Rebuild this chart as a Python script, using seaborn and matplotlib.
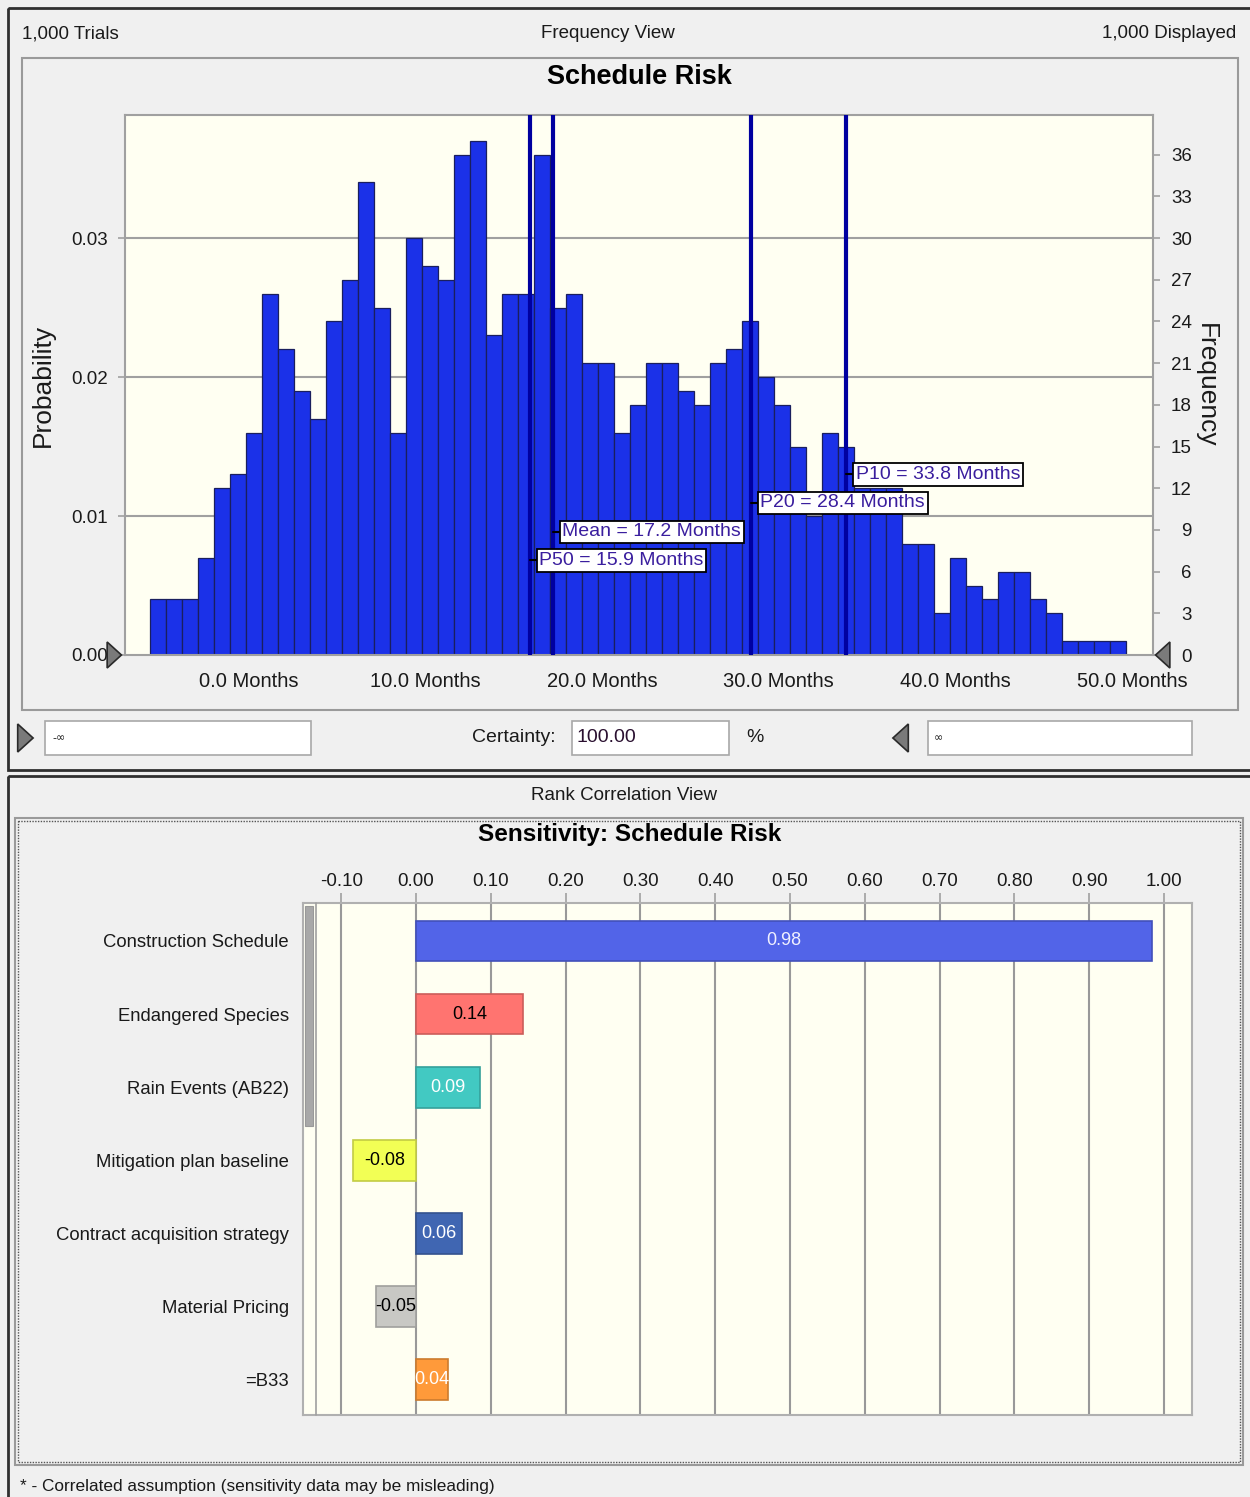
import numpy as np
import pandas as pd
import seaborn as sns
import matplotlib.pyplot as plt
from matplotlib import font_manager
from matplotlib.patches import Rectangle, Polygon
from matplotlib.lines import Line2D

# ---- data -------------------------------------------------------------
n_trials = 1000
first_edge = -5.55      # months, left edge of first bin
bin_width = 0.905       # months
counts = [4, 4, 4, 7, 12, 13, 16, 26, 22, 19, 17, 24, 27, 34, 25, 16, 30, 28, 27, 36,
          37, 23, 26, 26, 36, 25, 26, 21, 21, 16, 18, 21, 21, 19, 18, 21, 22, 24, 20, 18,
          15, 10, 16, 15, 12, 12, 12, 8, 8, 3, 7, 5, 4, 6, 6, 4, 3, 1, 1, 1, 1]
month_ticks = [0, 10, 20, 30, 40, 50]
freq_ticks = [0, 3, 6, 9, 12, 15, 18, 21, 24, 27, 30, 33, 36]
prob_ticks = [0.00, 0.01, 0.02, 0.03]

stat_names = ["P50", "Mean", "P20", "P10"]
stat_values = [15.9, 17.2, 28.4, 33.8]

sens_names = ["Construction Schedule", "Endangered Species", "Rain Events (AB22)",
              "Mitigation plan baseline", "Contract acquisition strategy",
              "Material Pricing", "=B33"]
sens_values = [0.984, 0.143, 0.086, -0.084, 0.062, -0.054, 0.043]
sens_ticks = [-0.10, 0.00, 0.10, 0.20, 0.30, 0.40, 0.50, 0.60, 0.70, 0.80, 0.90, 1.00]

# ---- styles / layout ----------------------------------------------------
sens_colors = ["#5264E8", "#FF7470", "#42C9C2", "#F2FF55", "#4066B2", "#C8C8C4", "#FF9A3A"]
sens_text = ["#F0F0FF", "black", "white", "black", "white", "black", "white"]
label_rows = [6.8, 8.85, 10.95, 13.0]   # height (counts) of stat labels

W, H = 1250, 1497
names = {f.name for f in font_manager.fontManager.ttflist}
NARROW = "Liberation Sans Narrow" if "Liberation Sans Narrow" in names else "Liberation Sans"
REG = "Liberation Sans"

sns.set_style("white")
plt.rcParams["font.family"] = [REG, "DejaVu Sans"]
TXT = "#1A1A1A"
GRID = "#A0A0A0"

fig = plt.figure(figsize=(W / 100, H / 100), dpi=100, facecolor="#F0F0F0")

# background layer in pixel coordinates
bg = fig.add_axes([0, 0, 1, 1], zorder=-1)
bg.set_xlim(0, W)
bg.set_ylim(H, 0)
bg.axis("off")


def frac(x0, y0, x1, y1):
    return [x0 / W, 1 - y1 / H, (x1 - x0) / W, (y1 - y0) / H]


def box(x0, y0, x1, y1, fc="none", ec="#202020", lw=1.0, ls="-", z=1):
    bg.add_patch(Rectangle((x0, y0), x1 - x0, y1 - y0, fc=fc, ec=ec, lw=lw, ls=ls, zorder=z))


def tri(x, y, direction, size=15):
    if direction == "right":
        pts = [(x - size * 0.45, y - size), (x + size * 0.65, y), (x - size * 0.45, y + size)]
    else:
        pts = [(x + size * 0.45, y - size), (x - size * 0.65, y), (x + size * 0.45, y + size)]
    fig.add_artist(Polygon(pts, closed=True, fc="#7A7A7A", ec="#2A2A2A", lw=1.2,
                           transform=bg.transData, zorder=10))


# windows
box(8, 8, 1252, 770, ec="#303030", lw=2)
box(8, 776, 1252, 1499, ec="#303030", lw=2)
box(22, 58, 1238, 710, ec="#9A9A9A", lw=1.5)

bg.text(22, 34, "1,000 Trials", family=NARROW, fontsize=13.5, color=TXT, va="center", ha="left")
bg.text(608, 34, "Frequency View", family=NARROW, fontsize=13.5, color=TXT, va="center", ha="center")
bg.text(1236, 34, "1,000 Displayed", family=NARROW, fontsize=13.5, color=TXT, va="center", ha="right")
bg.text(639, 77, "Schedule Risk", family=NARROW, fontsize=19.5, weight="bold", color="black",
        va="center", ha="center")

# certainty row
box(45, 721, 311, 755, fc="white", ec="#A8A8A8", lw=1.2)
box(572, 721, 729, 755, fc="white", ec="#A8A8A8", lw=1.2)
box(928, 721, 1192, 755, fc="white", ec="#A8A8A8", lw=1.2)
bg.text(52, 738, "-\u221e", fontsize=8, color=TXT, va="center", ha="left", family="DejaVu Sans")
bg.text(934, 738, "\u221e", fontsize=8, color=TXT, va="center", ha="left", family="DejaVu Sans")
bg.text(556, 738, "Certainty:", family=NARROW, fontsize=14, color=TXT, va="center", ha="right")
bg.text(577, 738, "100.00", family=NARROW, fontsize=14, color="#2A1030", va="center", ha="left")
bg.text(755, 738, "%", family=NARROW, fontsize=14, color=TXT, va="center", ha="center")
tri(24, 738, "right", 14)
tri(902, 738, "left", 14)

# ---- histogram ----------------------------------------------------------
ax = fig.add_axes(frac(125, 115, 1153, 655))
axp = ax.twinx()
ax.set_facecolor("#FFFFF2")
bin_edges = first_edge + bin_width * np.arange(len(counts) + 1)
hist_df = pd.DataFrame({"months": (bin_edges[:-1] + bin_edges[1:]) / 2, "trials": counts})
sns.histplot(data=hist_df, x="months", weights="trials", bins=list(bin_edges), ax=ax,
             color="#1B31E8", edgecolor="#1A1F5E", linewidth=0.9, alpha=1, zorder=2)
for p in prob_ticks[1:]:
    ax.axhline(p * n_trials, color=GRID, lw=1.5, zorder=1)

top_count = 38.85
ax.set_xlim(-6.98, 51.16)
ax.set_ylim(0, top_count)
ax.set_xticks(month_ticks)
ax.set_xticklabels([f"{m:.1f} Months" for m in month_ticks], family=NARROW, fontsize=14.5,
                   color=TXT)
ax.yaxis.tick_right()
ax.yaxis.set_label_position("right")
ax.set_yticks(freq_ticks)
ax.set_yticklabels([str(v) for v in freq_ticks], fontsize=13.5, color=TXT, ha="right")
ax.set_ylabel("Frequency", rotation=270, fontsize=19, color=TXT, labelpad=19)
ax.set_xlabel("")
ax.tick_params(axis="x", direction="out", length=6, width=1.2, color=GRID, pad=6)
ax.tick_params(axis="y", direction="out", length=5, width=1.2, color=GRID, pad=23,
               right=True, left=False, labelright=True, labelleft=False)
for s in ax.spines.values():
    s.set_color(GRID)
    s.set_linewidth(1.5)

axp.set_ylim(0, top_count / n_trials)
axp.yaxis.tick_left()
axp.yaxis.set_label_position("left")
axp.set_yticks(prob_ticks)
axp.set_yticklabels([f"{v:.2f}" for v in prob_ticks], fontsize=13.5, color=TXT)
axp.set_ylabel("Probability", fontsize=19, color=TXT, labelpad=12)
axp.tick_params(axis="y", direction="out", length=5, width=1.2, color=GRID, pad=7,
                left=True, right=False, labelleft=True, labelright=False)
for s in axp.spines.values():
    s.set_visible(False)

for name, val, row in zip(stat_names, stat_values, label_rows):
    ax.axvline(val, color="#0000A0", lw=3, zorder=3)
    ax.plot([val, val + 0.45], [row, row], color="black", lw=1.5, zorder=4)
    ax.annotate(f"{name} = {val:.1f} Months", xy=(val, row), xytext=(7, 0),
                textcoords="offset points", ha="left", va="center", family=NARROW,
                fontsize=14, color="#3A1E9E", zorder=5,
                bbox=dict(boxstyle="square,pad=0.14", fc="white", ec="black", lw=1.3))

tri(113, 655, "right", 13)
tri(1164, 655, "left", 13)

# ---- sensitivity chart --------------------------------------------------
bg.text(624, 795, "Rank Correlation View", family=NARROW, fontsize=13.5, color=TXT,
        va="center", ha="center")
box(15, 818, 1243, 1465, ec="#9A9A9A", lw=1.5)
box(18, 821, 1240, 1462, ec="#555555", lw=1.0, ls=(0, (1, 1)))
bg.text(630, 835, "Sensitivity: Schedule Risk", family=NARROW, fontsize=17.5, weight="bold",
        color="black", va="center", ha="center")
bg.text(20, 1487, "* - Correlated assumption (sensitivity data may be misleading)",
        fontsize=12.4, color=TXT, va="center", ha="left", family=NARROW)

axs = fig.add_axes(frac(303, 903, 1192, 1415))
axs.set_facecolor("#FFFFF2")
sns.barplot(x=sens_values, y=sens_names, hue=sens_names, palette=sens_colors, legend=False,
            orient="h", width=0.56, saturation=1, ax=axs, zorder=3)
for patch in axs.patches:
    fc = np.array(patch.get_facecolor()[:3])
    patch.set_edgecolor(tuple(fc * 0.8))
    patch.set_linewidth(1.2)
for i, (v, c) in enumerate(zip(sens_values, sens_text)):
    axs.text(v / 2, i, f"{v:.2f}", ha="center", va="center", fontsize=13, color=c, zorder=5)

axs.set_xlim(-0.151, 1.0375)
axs.set_ylim(len(sens_names) - 1 + 0.49, -0.52)
axs.xaxis.tick_top()
axs.set_xticks(sens_ticks)
axs.set_xticklabels([f"{t:.2f}" for t in sens_ticks], family=NARROW, fontsize=13.5, color=TXT)
axs.tick_params(axis="x", direction="out", length=7, width=1.2, color=GRID, pad=2)
axs.tick_params(axis="y", length=0, pad=10)
for lab in axs.get_yticklabels():
    lab.set_fontsize(13.3)
    lab.set_color(TXT)
for t in sens_ticks:
    axs.axvline(t, color="#999999", lw=1.5, zorder=1)
axs.set_xlabel("")
axs.set_ylabel("")
for s in axs.spines.values():
    s.set_color("#B0B0B0")
    s.set_linewidth(1.5)

# scrollbar on the left edge of the chart
fig.add_artist(Line2D([316, 316], [903, 1415], color="#A0A0A0", lw=1.2,
                      transform=bg.transData, zorder=6))
fig.add_artist(Rectangle((305, 906), 8, 220, fc="#A8A8A8", ec="#999999", lw=0.8,
                         transform=bg.transData, zorder=6))

fig.savefig("out.png", dpi=100, facecolor=fig.get_facecolor())
